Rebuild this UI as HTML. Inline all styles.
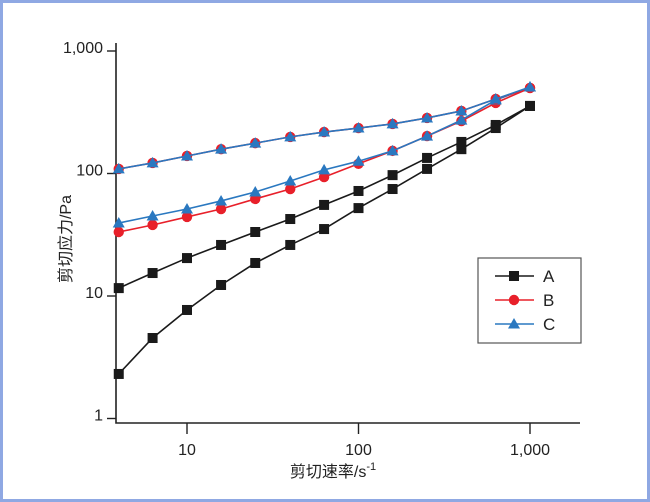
<!DOCTYPE html>
<html><head><meta charset="utf-8"><style>
html,body{margin:0;padding:0;background:#fff}
#wrap{position:relative;width:650px;height:502px;box-sizing:border-box;border:3px solid #8fa8e3;background:#fff;overflow:hidden}
svg{position:absolute;left:0;top:0}
text{font-family:"Liberation Sans","Noto Sans CJK SC",sans-serif;fill:#222}
</style></head><body>
<div id="wrap">
<svg id="chart" width="650" height="502" viewBox="0 0 650 502"></svg>
</div>
<script>
const shearRates=[4,6.3,10,15.8,25,40,63,100,158,251,398,631,1000];
const seriesALow=[2.31,4.54,7.69,12.3,18.6,26.1,35.2,52.2,74.7,109,158,235,356];
const seriesAHigh=[11.6,15.4,20.4,26.1,33.3,42.5,55.4,72,97,134,181,249,356];
const seriesBLow=[33.3,38,44.2,51.3,62,74.7,93.5,120,153,202,268,377,499];
const seriesBHigh=[109,122,139,158,177,199,218,235,254,284,324,406,499];
const seriesCLow=[39.4,45,51.3,59.7,70.6,86.9,107,126,153,202,273,398,508];
const seriesCHigh=[109,122,139,158,177,199,218,235,254,284,324,406,508];
const xTicks=[10,100,1000];
const xTickLabels=["10","100","1,000"];
const yTicks=[1,10,100,1000];
const yTickLabels=["1","10","100","1,000"];
const legendNames=["A","B","C"];

const NS="http://www.w3.org/2000/svg";
const svg=document.getElementById('chart');
const X=v=>184+171.5*Math.log10(v/10);
const Y=v=>415.5-122.5*Math.log10(v);
function mk(tag,attrs,parent){const e=document.createElementNS(NS,tag);for(const k in attrs)e.setAttribute(k,attrs[k]);(parent||svg).appendChild(e);return e;}

// axes
const ax=mk('path',{d:'M113,40 L113,420 L577,420',fill:'none',stroke:'#222','stroke-width':1.6});


xTicks.forEach((t,i)=>{
  const l=mk('line',{x1:X(t),x2:X(t),y1:420,y2:431,stroke:'#222','stroke-width':1.4});
  
  
  const tx=mk('text',{x:X(t),y:452,'text-anchor':'middle','font-size':16});
  tx.textContent=xTickLabels[i];
  
  
});
yTicks.forEach((t,i)=>{
  const l=mk('line',{x1:104,x2:113,y1:Y(t),y2:Y(t),stroke:'#222','stroke-width':1.4});
  
  
  const tx=mk('text',{x:100,y:Y(t)+2,'text-anchor':'end','font-size':16});
  tx.textContent=yTickLabels[i];
  
  
});
const xt=mk('text',{x:330,y:474,'text-anchor':'middle','font-size':16});
xt.innerHTML='剪切速率/s<tspan dy="-7" font-size="11">-1</tspan>';


const yt=mk('text',{x:0,y:0,'text-anchor':'middle','font-size':16,transform:'translate(68,236) rotate(-90)'});
yt.textContent='剪切应力/Pa';



function marker(type,x,y,color,parent){
  let m;
  if(type==='sq') m=mk('rect',{x:x-5,y:y-5,width:10,height:10,fill:color},parent);
  else if(type==='ci') m=mk('circle',{cx:x,cy:y,r:5.2,fill:color},parent);
  else m=mk('path',{d:`M${x},${y-6} L${x+6},${y+4.5} L${x-6},${y+4.5}Z`,fill:color},parent);
  
  
}
function series(vals,color,type,name){
  const g=mk('g',{});
  
  
  const d=vals.map((v,i)=>(i?'L':'M')+X(shearRates[i])+','+Y(vals[i])).join(' ');
  const p=mk('path',{d:d,fill:'none',stroke:color,'stroke-width':1.6},g);
  
  
  vals.forEach((v,i)=>marker(type,X(shearRates[i]),Y(v),color,g));
}
const cA='#1a1a1a',cB='#e8202a',cC='#2a78c0';
series(seriesALow,cA,'sq','series-a-low');
series(seriesAHigh,cA,'sq','series-a-high');
series(seriesBLow,cB,'ci','series-b-low');
series(seriesCLow,cC,'tr','series-c-low');
series(seriesBHigh,cB,'ci','series-b-high');
series(seriesCHigh,cC,'tr','series-c-high');

// legend
const lg=mk('g',{});


mk('rect',{x:475,y:255,width:103,height:85,fill:'#fff',stroke:'#555','stroke-width':1.2},lg);
const cols=[cA,cB,cC],types=['sq','ci','tr'];
legendNames.forEach((n,i)=>{
  const y=273+i*24;
  const e=mk('g',{},lg);
  
  
  mk('line',{x1:492,x2:531,y1:y,y2:y,stroke:cols[i],'stroke-width':1.6},e);
  marker(types[i],511,y,cols[i],e);
  const t=mk('text',{x:540,y:y+6,'font-size':17},e);
  t.textContent=n;
});
</script>
</body></html>
